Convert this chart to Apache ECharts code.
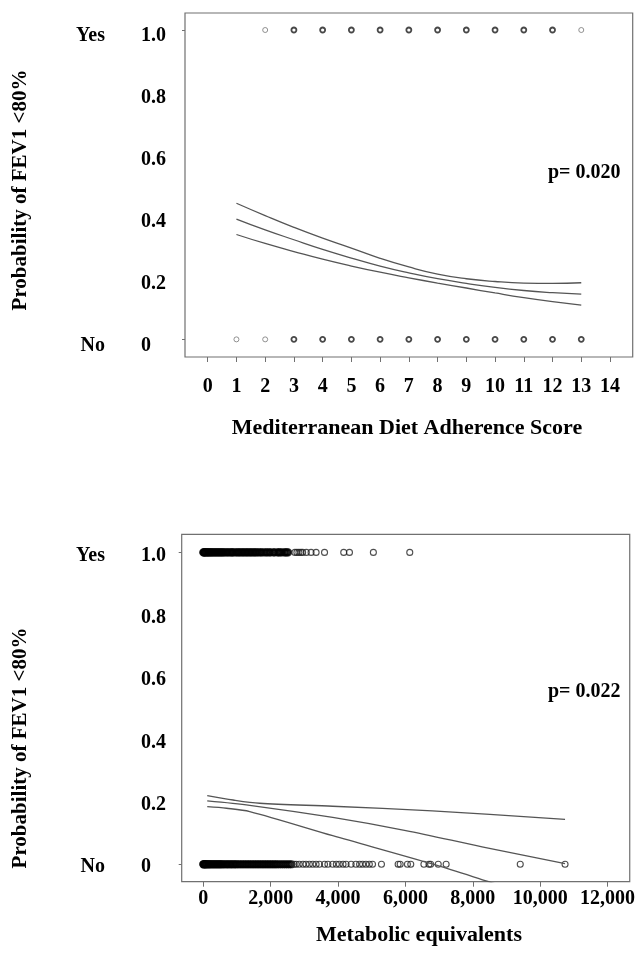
<!DOCTYPE html>
<html>
<head>
<meta charset="utf-8">
<script src="https://cdn.jsdelivr.net/npm/echarts@6/dist/echarts.min.js"></script>
<style>
html,body{margin:0;padding:0;background:#fff;}
#chart{width:638px;height:954px;}
</style>
</head>
<body>
<div id="chart"></div>
<script>
// ---------- Data: top panel (Mediterranean Diet Adherence Score) ----------
const dietTicks = [0,1,2,3,4,5,6,7,8,9,10,11,12,13,14];
const probTicks = [0,0.2,0.4,0.6,0.8,1.0];
const dietYesDark = [3,4,5,6,7,8,9,10,11,12];
const dietYesLight = [2,13];
const dietNoDark = [3,4,5,6,7,8,9,10,11,12,13];
const dietNoLight = [1,2];
const dietCurveX = [1,2,3,4,5,6,7,8,9,10,11,12,13];
const dietUpper = [0.440,0.400,0.362,0.327,0.295,0.262,0.234,0.211,0.196,0.187,0.182,0.181,0.183];
const dietFit   = [0.389,0.354,0.322,0.291,0.263,0.237,0.215,0.196,0.181,0.168,0.158,0.151,0.146];
const dietLower = [0.339,0.310,0.284,0.259,0.237,0.217,0.199,0.182,0.166,0.150,0.135,0.122,0.111];

// ---------- Data: bottom panel (Metabolic equivalents) ----------
const metTicks = [0,2000,4000,6000,8000,10000,12000];
const metYes = [0,15,30,50,70,95,120,140,165,190,220,240,270,300,330,360,390,420,450,480,510,540,570,600,640,680,720,760,800,840,870,900,960,1000,1040,1080,1120,1160,1200,1240,1280,1320,1360,1400,1440,1480,1520,1560,1600,1650,1700,1740,1800,1860,1900,1960,2000,2080,2120,2200,2240,2280,2330,2400,2440,2480,2520,2720,2780,2840,2900,2950,3060,3200,3350,3600,4170,4340,5050,6130];
const metNo = [0,10,25,40,60,80,100,125,150,175,200,230,260,290,320,350,380,410,440,470,500,530,560,600,640,680,720,760,800,840,880,920,960,1000,1050,1100,1150,1200,1250,1300,1350,1400,1450,1500,1550,1600,1650,1700,1750,1800,1850,1900,1950,2000,2050,2100,2150,2200,2260,2320,2380,2440,2500,2560,2620,2700,2760,2850,2960,3050,3150,3250,3350,3450,3600,3700,3840,3950,4040,4150,4240,4390,4530,4640,4730,4830,4930,5025,5290,5785,5845,6060,6160,6550,6700,6750,6975,7210,9410,10740];
const metDenseLimit = 2650;
const metUpperX = [118,887,1676,3843,6798,10740];
const metUpperY = [0.220,0.206,0.1955,0.186,0.171,0.144];
const metFitX = [118,1380,3843,6012,8276,10740];
const metFitY = [0.203,0.189,0.150,0.108,0.056,0.002];
const metLowerX = [118,691,1380,3843,6897,8474,8700];
const metLowerY = [0.1846,0.1795,0.169,0.0917,-0.002,-0.056,-0.064];

// ---------- Build ----------
const FONT = '"Liberation Serif","Times New Roman",serif';
const pairs = (xs, ys) => xs.map((x,i)=>[x, ys[i]]);
const at = (xs, v) => xs.map(x=>[x, v]);
const dense = xs => xs.filter(x => x <= metDenseLimit);
const sparse = xs => xs.filter(x => x > metDenseLimit);

const chart = echarts.init(document.getElementById('chart'), null, {renderer:'canvas'});

const frameColor = '#707070';
const lineColor = '#555';
const textStyleBase = {fontFamily: FONT, fontWeight: 'bold', color: '#000'};

function probAxis(gridIndex, min, max, margin, lh) {
  return {
    type:'value', gridIndex, min, max,
    axisLine:{show:false, onZero:false},
    splitLine:{show:false},
    axisTick:{show:true, customValues:[0,1], length:3, lineStyle:{color:frameColor}},
    axisLabel:Object.assign({customValues:probTicks, align:'left', margin,
      verticalAlign:'top', lineHeight:lh,
      fontSize:20, formatter:v => v===0 ? '0' : v.toFixed(1)}, textStyleBase)
  };
}
function yesNoAxis(gridIndex, min, max, margin, lh) {
  return {
    type:'value', gridIndex, min, max, position:'left',
    axisLine:{show:false, onZero:false}, splitLine:{show:false}, axisTick:{show:false},
    axisLabel:Object.assign({customValues:[0,1], align:'right', margin,
      verticalAlign:'top', lineHeight:lh,
      fontSize:20, formatter:v => v===1 ? 'Yes' : 'No'}, textStyleBase)
  };
}

const option = {
  backgroundColor:'#fff',
  animation:false,
  grid:[
    {left:185, top:13, width:447.7, height:344, show:true, borderColor:frameColor, borderWidth:1.2, backgroundColor:'transparent'},
    {left:181.7, top:534.3, width:450, height:347.4, show:true, borderColor:frameColor, borderWidth:1.2, backgroundColor:'transparent'}
  ],
  xAxis:[
    {type:'value', gridIndex:0, min:-0.79, max:14.79,
     axisLine:{show:false, onZero:false}, splitLine:{show:false},
     axisTick:{show:true, customValues:dietTicks, length:5, lineStyle:{color:frameColor}},
     axisLabel:Object.assign({customValues:dietTicks, margin:20, fontSize:20}, textStyleBase)},
    {type:'value', gridIndex:1, min:-640, max:12660,
     axisLine:{show:false, onZero:false}, splitLine:{show:false},
     axisTick:{show:true, customValues:metTicks, length:5, lineStyle:{color:frameColor}},
     axisLabel:Object.assign({customValues:metTicks, margin:7, fontSize:20,
       formatter:v => String(v).replace(/\B(?=(\d{3})+(?!\d))/g, ',')}, textStyleBase)}
  ],
  yAxis:[
    probAxis(0, -0.057, 1.055, 44, 12),
    yesNoAxis(0, -0.057, 1.055, 80, 12),
    probAxis(1, -0.056, 1.058, 40.7, 6),
    yesNoAxis(1, -0.056, 1.058, 76.7, 6)
  ],
  graphic:[
    {type:'text', x:21, y:190, rotation:Math.PI/2, style:{text:'Probability of FEV1 <80%', font:'bold 21px '+FONT, fill:'#000', align:'center', verticalAlign:'middle'}},
    {type:'text', x:21, y:748, rotation:Math.PI/2, style:{text:'Probability of FEV1 <80%', font:'bold 21px '+FONT, fill:'#000', align:'center', verticalAlign:'middle'}},
    {type:'text', x:407, y:428, style:{text:'Mediterranean Diet Adherence Score', font:'bold 22px '+FONT, fill:'#000', align:'center', verticalAlign:'middle'}},
    {type:'text', x:419, y:935, style:{text:'Metabolic equivalents', font:'bold 22px '+FONT, fill:'#000', align:'center', verticalAlign:'middle'}},
    {type:'text', x:548, y:173, style:{text:'p= 0.020', font:'bold 20px '+FONT, fill:'#000', align:'left', verticalAlign:'middle'}},
    {type:'text', x:548, y:692, style:{text:'p= 0.022', font:'bold 20px '+FONT, fill:'#000', align:'left', verticalAlign:'middle'}}
  ],
  series:[
    // top panel
    {type:'scatter', xAxisIndex:0, yAxisIndex:0, symbol:'circle', symbolSize:5,
     itemStyle:{color:'rgba(0,0,0,0)', borderColor:'#1a1a1a', borderWidth:1.8},
     data:at(dietYesDark,1).concat(at(dietNoDark,0))},
    {type:'scatter', xAxisIndex:0, yAxisIndex:0, symbol:'circle', symbolSize:5,
     itemStyle:{color:'rgba(0,0,0,0)', borderColor:'#777', borderWidth:1},
     data:at(dietYesLight,1).concat(at(dietNoLight,0))},
    {type:'line', xAxisIndex:0, yAxisIndex:0, showSymbol:false, smooth:true,
     lineStyle:{color:lineColor, width:1.3}, data:pairs(dietCurveX, dietUpper)},
    {type:'line', xAxisIndex:0, yAxisIndex:0, showSymbol:false, smooth:true,
     lineStyle:{color:lineColor, width:1.3}, data:pairs(dietCurveX, dietFit)},
    {type:'line', xAxisIndex:0, yAxisIndex:0, showSymbol:false, smooth:true,
     lineStyle:{color:lineColor, width:1.3}, data:pairs(dietCurveX, dietLower)},
    // bottom panel
    {type:'scatter', xAxisIndex:1, yAxisIndex:2, symbol:'circle', symbolSize:6,
     itemStyle:{color:'rgba(0,0,0,0)', borderColor:'#000', borderWidth:2.2},
     data:at(dense(metYes),1).concat(at(dense(metNo),0))},
    {type:'scatter', xAxisIndex:1, yAxisIndex:2, symbol:'circle', symbolSize:6,
     itemStyle:{color:'rgba(0,0,0,0)', borderColor:'#222', borderWidth:1.1},
     data:at(sparse(metYes),1).concat(at(sparse(metNo),0))},
    {type:'line', xAxisIndex:1, yAxisIndex:2, showSymbol:false, smooth:0.3,
     lineStyle:{color:lineColor, width:1.3}, data:pairs(metUpperX, metUpperY)},
    {type:'line', xAxisIndex:1, yAxisIndex:2, showSymbol:false, smooth:0.3,
     lineStyle:{color:lineColor, width:1.3}, data:pairs(metFitX, metFitY)},
    {type:'line', xAxisIndex:1, yAxisIndex:2, showSymbol:false, smooth:0.3, clip:true,
     lineStyle:{color:lineColor, width:1.3}, data:pairs(metLowerX, metLowerY)}
  ]
};
chart.setOption(option);
</script>
</body>
</html>
